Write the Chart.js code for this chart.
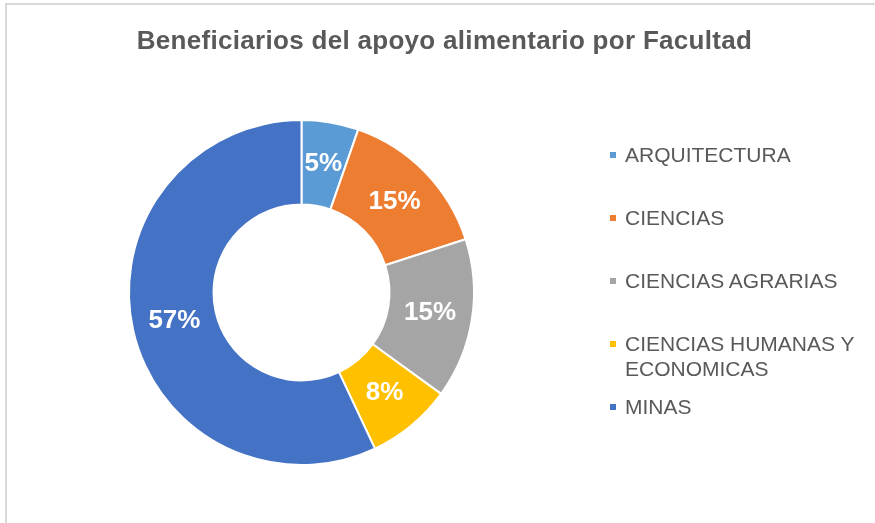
<!DOCTYPE html>
<html>
<head>
<meta charset="utf-8">
<script src="https://cdn.jsdelivr.net/npm/chart.js@4/dist/chart.umd.min.js"></script>
<style>
    html, body { margin: 0; padding: 0; background: #fff; overflow: hidden; }
    body { width: 875px; height: 523px; position: relative; font-family: 'Liberation Sans', Arial, sans-serif; }
    #frame { position: absolute; left: 5px; top: 3px; width: 900px; height: 560px; border: 2px solid #d9d9d9; box-sizing: border-box; }
    #title { position: absolute; left: 0; top: 25px; width: 889px; text-align: center; font-size: 26px; line-height: 30px; letter-spacing: 0.3px; font-weight: bold; color: #595959; white-space: nowrap; }
    #chart-wrap { position: absolute; left: 0; top: 0; width: 889px; height: 523px; }
    #legend { position: absolute; left: 610px; top: 142px; margin: 0; padding: 0; list-style: none; width: 260px; }
    #legend li { display: flex; align-items: flex-start; height: 63px; font-size: 21px; line-height: 25px; color: #595959; }
    #legend .box { flex: none; width: 6px; height: 6px; margin-top: 10px; margin-right: 9px; }
</style>
</head>
<body>
<div id="frame"></div>
<div id="chart-wrap"><canvas id="donut"></canvas></div>
<div id="title"></div>
<ul id="legend"></ul>
<script>
// Beneficiarios por facultad (cantidades estimadas a partir de los porcentajes)
const facultades = ['ARQUITECTURA', 'CIENCIAS', 'CIENCIAS AGRARIAS', 'CIENCIAS HUMANAS Y ECONOMICAS', 'MINAS'];
const beneficiarios = [16, 44, 45, 24, 171];
const colores = ['#5B9BD5', '#ED7D31', '#A5A5A5', '#FFC000', '#4472C4'];
const titulo = 'Beneficiarios del apoyo alimentario por Facultad';

// etiquetas de porcentaje dentro de cada segmento
const percentLabels = {
    id: 'percentLabels',
    afterDatasetsDraw(chart) {
        const { ctx } = chart;
        const meta = chart.getDatasetMeta(0);
        const data = chart.data.datasets[0].data;
        const total = data.reduce((s, v) => s + v, 0);
        ctx.save();
        ctx.font = 'bold 26px "Liberation Sans", Arial, sans-serif';
        ctx.fillStyle = '#ffffff';
        ctx.textAlign = 'center';
        ctx.textBaseline = 'middle';
        meta.data.forEach((arc, i) => {
            const { x, y } = arc.getCenterPoint();
            ctx.fillText(Math.round(data[i] / total * 100) + '%', x, y);
        });
        ctx.restore();
    }
};

const chart = new Chart(document.getElementById('donut').getContext('2d'), {
    type: 'doughnut',
    data: {
        labels: facultades,
        datasets: [{
            data: beneficiarios,
            backgroundColor: colores,
            borderColor: '#ffffff',
            borderWidth: 2
        }]
    },
    options: {
        responsive: true,
        maintainAspectRatio: false,
        animation: false,
        cutout: '51%',
        layout: { padding: { left: 128, right: 414, top: 118, bottom: 56 } },
        plugins: {
            legend: { display: false },
            tooltip: { enabled: false },
            title: { display: false }
        }
    },
    plugins: [percentLabels]
});

document.getElementById('title').textContent = titulo;

// leyenda en HTML a la derecha
const legendEl = document.getElementById('legend');
chart.options.plugins.legend.labels.generateLabels(chart).forEach(item => {
    const li = document.createElement('li');
    const box = document.createElement('span');
    box.className = 'box';
    box.style.background = item.fillStyle;
    const txt = document.createElement('span');
    txt.textContent = item.text;
    li.appendChild(box);
    li.appendChild(txt);
    legendEl.appendChild(li);
});
</script>
</body>
</html>
